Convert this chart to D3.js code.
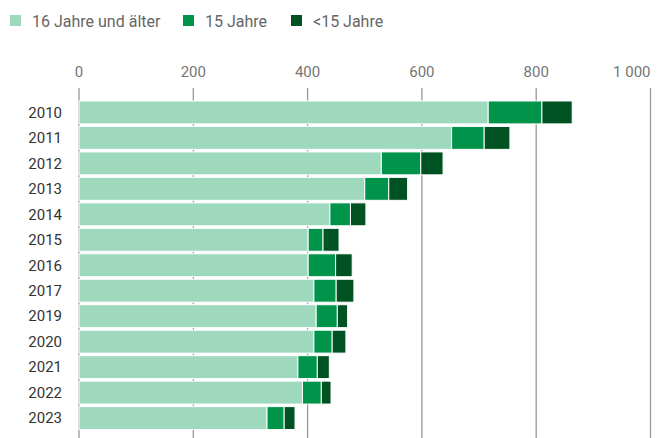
<!DOCTYPE html>
<html>
<head>
<meta charset="utf-8">
<script src="https://cdn.jsdelivr.net/npm/d3@7"></script>
<style>
  html, body { margin: 0; padding: 0; background: #fff; }
  #vis { width: 659px; height: 438px; }
  text { font-family: Roboto, sans-serif; }
</style>
</head>
<body>
<div id="vis"></div>
<script>
const years = ['2010', '2011', '2012', '2013', '2014', '2015', '2016', '2017', '2019', '2020', '2021', '2022', '2023'];
const age16plus = [716, 652, 529, 500, 439, 401, 401, 411, 415, 411, 383, 391, 329];
const age15 = [94, 57, 69, 42, 36, 26, 48, 39, 37, 32, 34, 33, 30];
const under15 = [53, 45, 39, 33, 27, 28, 29, 31, 18, 24, 21, 17, 19];
const seriesNames = ['16 Jahre und älter', '15 Jahre', '<15 Jahre'];
const xTicks = [0, 200, 400, 600, 800, 1000];
const xTickLabels = ['0', '200', '400', '600', '800', '1 000'];

const colors = ['#9ed9bd', '#00934a', '#005222'];

const width = 659;
const height = 438;

const svg = d3.select('#vis')
  .append('svg')
    .attr('width', width)
    .attr('height', height);

const rows = years.map((y, i) => ({ year: y, a: age16plus[i], b: age15[i], c: under15[i] }));
const stacked = d3.stack().keys(['a', 'b', 'c'])(rows);

const x = d3.scaleLinear()
  .domain([0, 1000])
  .range([79, 650.5]);

const y = d3.scaleBand()
  .domain(years)
  .range([99.7, 430.8])
  .paddingInner(0.1)
  .paddingOuter(0.05);

// grid lines + top labels
const grid = svg.append('g');
grid.selectAll('line')
  .data(xTicks)
  .enter().append('line')
    .attr('x1', d => x(d))
    .attr('x2', d => x(d))
    .attr('y1', 88)
    .attr('y2', height)
    .attr('stroke', '#999')
    .attr('stroke-width', 1.3);

grid.selectAll('text')
  .data(xTicks)
  .enter().append('text')
    .attr('x', d => x(d))
    .attr('y', 77)
    .attr('text-anchor', (d, i) => i === xTicks.length - 1 ? 'end' : 'middle')
    .attr('fill', '#757575')
    .attr('font-size', 15)
    .text((d, i) => xTickLabels[i]);

// bars
svg.append('g')
  .selectAll('g')
  .data(stacked)
  .enter().append('g')
    .attr('fill', (d, i) => colors[i])
  .selectAll('rect')
  .data(d => d)
  .enter().append('rect')
    .attr('x', d => x(d[0]))
    .attr('y', d => y(d.data.year))
    .attr('width', d => x(d[1]) - x(d[0]))
    .attr('height', y.bandwidth())
    .attr('stroke', '#fff')
    .attr('stroke-width', 1);

// year labels
svg.append('g')
  .selectAll('text')
  .data(years)
  .enter().append('text')
    .attr('x', 62)
    .attr('y', d => y(d) + y.bandwidth() / 2)
    .attr('dy', '0.35em')
    .attr('text-anchor', 'end')
    .attr('fill', '#333')
    .attr('font-size', 15)
    .text(d => d);

// legend
const legendX = [10, 183, 291];
const legend = svg.append('g');
seriesNames.forEach((name, i) => {
  legend.append('rect')
    .attr('x', legendX[i])
    .attr('y', 15)
    .attr('width', 11)
    .attr('height', 11)
    .attr('fill', colors[i]);
  legend.append('text')
    .attr('x', legendX[i] + 22)
    .attr('y', 21)
    .attr('dy', '0.35em')
    .attr('fill', '#666')
    .attr('font-size', 16)
    .text(name);
});
</script>
</body>
</html>
